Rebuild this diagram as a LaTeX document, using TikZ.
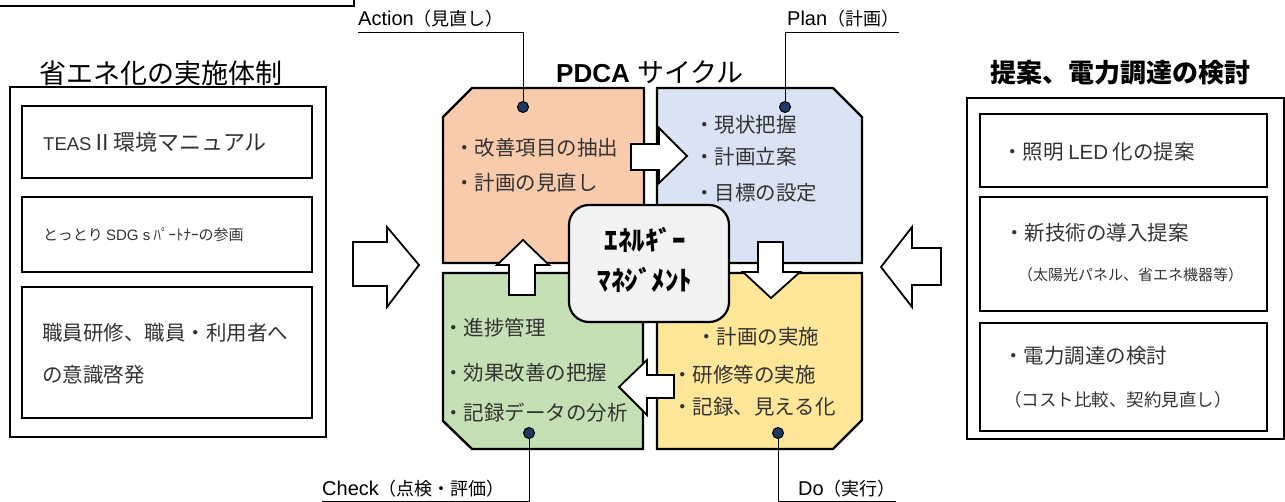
\documentclass[tikz,border=0pt]{standalone}
\usepackage{fontspec}
\usepackage{xcolor}
\setmainfont{Liberation Sans}
\newfontfamily\jp{Noto Sans CJK JP}
\usetikzlibrary{positioning,calc}
\definecolor{actfill}{HTML}{F8CBAD}
\definecolor{planfill}{HTML}{DAE3F3}
\definecolor{chkfill}{HTML}{C5E0B4}
\definecolor{dofill}{HTML}{FFE699}
\definecolor{emfill}{HTML}{F2F2F2}
\definecolor{dotfill}{HTML}{1F3864}
\definecolor{txtcol}{HTML}{333333}
\newcommand{\fsz}[1]{\fontsize{#1}{#1}\selectfont}
\newcommand{\ltn}[1]{{\rmfamily #1}}
\tikzset{
    outerbox/.style={draw, line width=2.4pt},
    innerbox/.style={draw, line width=2pt},
    quad/.style={draw, line width=2.4pt, line join=miter},
    blockarr/.style={draw, fill=white, line width=1.8pt, line join=miter},
    txt/.style={anchor=west, inner sep=0pt, text=txtcol, font=\jp\fsz{20.5}},
    title/.style={inner sep=0pt, font=\jp\fsz{27}},
    leaddot/.style={circle, draw, fill=dotfill, line width=1pt, minimum size=11pt, inner sep=0pt},
    leader/.style={line width=0.9pt},
    lab/.style={anchor=base west, inner sep=0pt, font=\fsz{20}}
}

\begin{document}
\begin{tikzpicture}[x=1pt, y=-1pt]
    \useasboundingbox (0,0) rectangle (1285,502);

    % box cut off at the top edge
    \draw[outerbox] (-10,-40) rectangle (354,6);

    % left column
    \node[title] (lefttitle) at (161,73) {省エネ化の実施体制};
    \draw[outerbox] (10,87) rectangle (326,437);
    \draw[innerbox] (22,106) rectangle (312,178);
    \draw[innerbox] (22,197) rectangle (312,272);
    \draw[innerbox] (22,287) rectangle (312,418);
    \node[txt, font=\fsz{18.5}] (teas) at (43,142) {TEAS{\jp\fsz{22}Ⅱ環境マニュアル}};
    \node[txt, font=\jp\fsz{15}] (sdgs) at (43,235) {とっとり \ltn{SDG s} ﾊﾟｰﾄﾅｰの参画};
    \node[txt] (kensyu) at (42,333) {職員研修、職員・利用者へ};
    \node[txt] (keihatsu) at (42,375) {の意識啓発};

    % right column
    \node[title, font=\jp\bfseries\fsz{26}] (righttitle) at (1120,73) {提案、電力調達の検討};
    \draw[outerbox] (967,98) rectangle (1284,439);
    \draw[innerbox] (980,114) rectangle (1267,187);
    \draw[innerbox] (980,197) rectangle (1267,311);
    \draw[innerbox] (980,323) rectangle (1267,431);
    \node[txt] (led) at (1002,152) {・照明 \ltn{LED} 化の提案};
    \node[txt] (shingi) at (1004,233) {・新技術の導入提案};
    \node[txt, font=\jp\fsz{15}] (taiyo) at (1018,275) {（太陽光パネル、省エネ機器等）};
    \node[txt] (chotatsu) at (1003,356) {・電力調達の検討};
    \node[txt, font=\jp\fsz{17.5}] (cost) at (1004,400) {（コスト比較、契約見直し）};

    % side arrows
    \draw[blockarr] (353,242) -- (387,242) -- (387,227) -- (419,265) -- (387,307) -- (387,286) -- (353,286) -- cycle;
    \draw[blockarr] (941,248) -- (912,248) -- (912,227) -- (881,267) -- (912,307) -- (912,285) -- (941,285) -- cycle;

    % PDCA quadrants
    \node[inner sep=0pt, font=\bfseries\fsz{26}] (pdcatitle) at (650,72) {PDCA {\jp\mdseries\fsz{27}サイクル}};
    \draw[quad, fill=actfill] (443,117) -- (472,88) -- (644,88) -- (644,263) -- (443,263) -- cycle;
    \draw[quad, fill=planfill] (657,88) -- (833,88) -- (862,117) -- (862,263) -- (657,263) -- cycle;
    \draw[quad, fill=chkfill] (443,273) -- (643,273) -- (643,449) -- (472,449) -- (443,421) -- cycle;
    \draw[quad, fill=dofill] (657,273) -- (862,273) -- (862,420) -- (833,449) -- (657,449) -- cycle;

    \node[txt] (act1) at (454,148) {・改善項目の抽出};
    \node[txt] (act2) at (454,183) {・計画の見直し};
    \node[txt] (plan1) at (694,125) {・現状把握};
    \node[txt] (plan2) at (694,157) {・計画立案};
    \node[txt] (plan3) at (694,193) {・目標の設定};
    \node[txt] (chk1) at (443,328) {・進捗管理};
    \node[txt] (chk2) at (443,373) {・効果改善の把握};
    \node[txt] (chk3) at (443,413) {・記録データの分析};
    \node[txt] (do1) at (696,337) {・計画の実施};
    \node[txt] (do2) at (672,375) {・研修等の実施};
    \node[txt] (do3) at (672,407) {・記録、見える化};

    % energy management in the middle
    \node[draw, line width=2.2pt, fill=emfill, rounded corners=20pt, minimum width=160pt, minimum height=117pt] (embox) at (649,263.5) {};
    \node[font=\jp\bfseries\fsz{27}, align=center, inner sep=0pt] (emtext) at (645,260) {ｴﾈﾙｷﾞｰ\\[13pt]ﾏﾈｼﾞﾒﾝﾄ};

    % cycle arrows
    \draw[blockarr] (631,144) -- (659,144) -- (659,128) -- (687,156) -- (659,183) -- (659,170) -- (631,170) -- cycle;
    \draw[blockarr] (758,242) -- (783,242) -- (783,272) -- (800,272) -- (771,298) -- (743,272) -- (758,272) -- cycle;
    \draw[blockarr] (674,375) -- (647,375) -- (647,360) -- (619,387) -- (647,415) -- (647,398) -- (674,398) -- cycle;
    \draw[blockarr] (509,295) -- (509,265) -- (497,265) -- (523,240) -- (549,265) -- (535,265) -- (535,295) -- cycle;

    % labels
    \node[leaddot] (actdot) at (523,107) {};
    \node[leaddot] (plandot) at (785,107) {};
    \node[leaddot] (chkdot) at (529,433) {};
    \node[leaddot] (dodot) at (778,433) {};
    \coordinate (actbend) at (523,32);
    \coordinate (planbend) at (785,32);
    \coordinate (chkbend) at (529,501);
    \coordinate (dobend) at (778,501);
    \node[lab] (actlab) at (358,26) {Action{\jp\fsz{18}（見直し）}};
    \node[lab] (planlab) at (787,26) {Plan{\jp\fsz{18}（計画）}};
    \node[lab] (chklab) at (322,495) {Check{\jp\fsz{18}（点検・評価）}};
    \node[lab] (dolab) at (798,495) {Do{\jp\fsz{18}（実行）}};
    \draw[leader] (actdot) -- (actbend) -- (actbend -| actlab.west);
    \draw[leader] (plandot) -- (planbend) -- (planbend -| planlab.east);
    \draw[leader] (chkdot) -- (chkbend) -- (chkbend -| chklab.west);
    \draw[leader] (dodot) -- (dobend) -- (dobend -| dolab.east);
\end{tikzpicture}
\end{document}
